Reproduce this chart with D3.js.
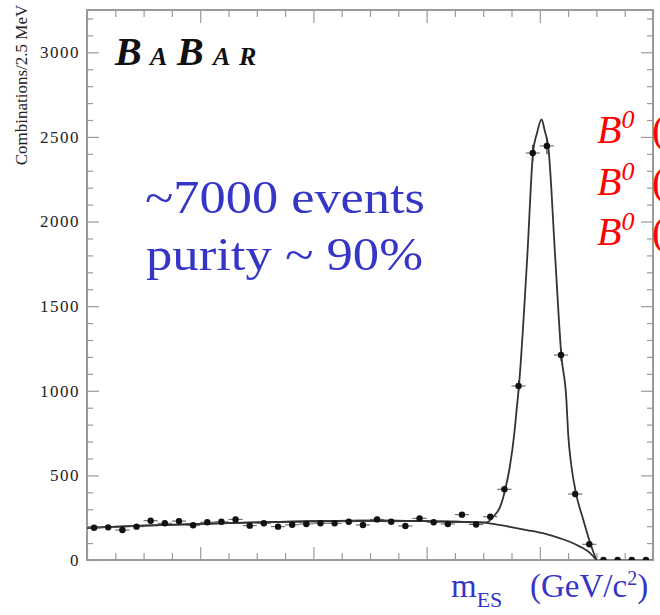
<!DOCTYPE html>
<html>
<head>
<meta charset="utf-8">
<script src="https://cdn.jsdelivr.net/npm/d3@7"></script>
<style>
  body { margin: 0; background: #fff; }
  svg { display: block; }
  svg text { font-family: "Liberation Serif", "Times New Roman", "DejaVu Serif", serif; }
</style>
</head>
<body>
<div id="visHolder"></div>
<script>
var width = 660;
var height = 615;

// m_ES histogram, 2.5 MeV bins from 5.20 to 5.30 GeV/c2
var binLow = 5.20;
var binWidth = 0.0025;
var counts = [191, 193, 177, 197, 232, 217, 230, 205, 223, 226,
              240, 203, 217, 197, 208, 213, 217, 217, 226, 207,
              240, 226, 201, 246, 223, 213, 268, 210, 256, 418,
              1028, 2405, 2447, 1211, 390, 93, 0, 0, 0, 0];

// fitted total shape (signal + background)
var fitMass = [5.2000, 5.2100, 5.2200, 5.2300, 5.2400, 5.2500, 5.2600, 5.2650, 5.2706,
               5.2718, 5.2730, 5.2739, 5.2747, 5.2755, 5.2759, 5.2763, 5.2778, 5.2788,
               5.2795, 5.2803, 5.2809, 5.2815, 5.2827, 5.2838, 5.2847, 5.2850, 5.2856,
               5.2864, 5.2877, 5.2889, 5.2900];
var fitTotal = [190, 203, 213, 222, 229, 232, 230, 226, 222,
                256, 315, 418, 551, 748, 886, 1023, 1801, 2404,
                2522, 2603, 2533, 2441, 1801, 1211, 945, 750, 551,
                394, 236, 100, 0];

// background (ARGUS-like) component
var bkgMass = [5.2000, 5.2100, 5.2200, 5.2300, 5.2400, 5.2500, 5.2600, 5.2650, 5.2700,
               5.2718, 5.2747, 5.2777, 5.2810, 5.2836, 5.2855, 5.2871, 5.2889, 5.2900];
var bkgValues = [190, 203, 213, 222, 229, 232, 230, 226, 221,
                 213, 196, 177, 154, 128, 105, 79, 41, 0];

var yMajor = [0, 500, 1000, 1500, 2000, 2500, 3000];
var xMajor = [5.20, 5.22, 5.24, 5.26, 5.28, 5.30];

var frameGrey = "#9a9a9a";
var blue = "#3535c8";
var red = "#ff0000";
var serif = "\"Liberation Serif\", \"Times New Roman\", \"DejaVu Serif\", serif";

var svg = d3.select("#visHolder")
  .append("svg")
  .attr("width", width)
  .attr("height", height)
  .attr("font-family", serif);

var x = d3.scaleLinear().domain([5.20, 5.30]).range([87, 653]);
var y = d3.scaleLinear().domain([0, 3250]).range([560, 10]);

var yMinor = d3.range(0, 3250, 100).filter(v => v % 500 !== 0);
var xMinor = d3.range(0, 21).map(i => 5.20 + i * 0.005).filter((v, i) => i % 4 !== 0);

function styleAxis(g) {
  g.attr("font-family", serif);
  g.select(".domain").remove();
  g.selectAll("line").attr("stroke", frameGrey).attr("stroke-width", 1.2);
  g.selectAll("text")
    .attr("fill", "#222")
    .style("font-size", "17px")
    .style("letter-spacing", "1.5px");
}

// left axis, labelled, ticks pointing inside
svg.append("g")
  .attr("transform", "translate(87,0)")
  .call(d3.axisLeft(y).tickValues(yMajor).tickSize(-12).tickPadding(7).tickFormat(d3.format("d")))
  .call(styleAxis);
svg.append("g")
  .attr("transform", "translate(87,0)")
  .call(d3.axisLeft(y).tickValues(yMinor).tickSize(-6).tickFormat(""))
  .call(styleAxis);

// right axis mirror
svg.append("g")
  .attr("transform", "translate(653,0)")
  .call(d3.axisRight(y).tickValues(yMajor).tickSize(-12).tickFormat(""))
  .call(styleAxis);
svg.append("g")
  .attr("transform", "translate(653,0)")
  .call(d3.axisRight(y).tickValues(yMinor).tickSize(-6).tickFormat(""))
  .call(styleAxis);

// bottom and top, no labels in the picture
svg.append("g")
  .attr("transform", "translate(0,560)")
  .call(d3.axisBottom(x).tickValues(xMajor).tickSize(-13).tickFormat(""))
  .call(styleAxis);
svg.append("g")
  .attr("transform", "translate(0,560)")
  .call(d3.axisBottom(x).tickValues(xMinor).tickSize(-7).tickFormat(""))
  .call(styleAxis);
svg.append("g")
  .attr("transform", "translate(0,10)")
  .call(d3.axisTop(x).tickValues(xMajor).tickSize(-13).tickFormat(""))
  .call(styleAxis);
svg.append("g")
  .attr("transform", "translate(0,10)")
  .call(d3.axisTop(x).tickValues(xMinor).tickSize(-7).tickFormat(""))
  .call(styleAxis);

// frame
svg.append("rect")
  .attr("x", x(5.20))
  .attr("y", y(3250))
  .attr("width", x(5.30) - x(5.20))
  .attr("height", y(0) - y(3250))
  .attr("fill", "none")
  .attr("stroke", frameGrey)
  .attr("stroke-width", 2);

svg.append("clipPath").attr("id", "plotClip")
  .append("rect")
  .attr("x", x(5.20)).attr("y", y(3250))
  .attr("width", x(5.30) - x(5.20)).attr("height", y(0) - y(3250));

var plot = svg.append("g").attr("clip-path", "url(#plotClip)");

var fitLine = d3.line()
  .x(d => x(d[0]))
  .y(d => y(d[1]))
  .curve(d3.curveMonotoneX);

plot.append("path")
  .attr("d", fitLine(d3.zip(bkgMass, bkgValues)))
  .attr("fill", "none")
  .attr("stroke", "#333")
  .attr("stroke-width", 1.8);

plot.append("path")
  .attr("d", fitLine(d3.zip(fitMass, fitTotal)))
  .attr("fill", "none")
  .attr("stroke", "#333")
  .attr("stroke-width", 1.8);

// data points with error bars
var pts = counts.map((c, i) => ({ m: binLow + (i + 0.5) * binWidth, n: c }));

var pg = plot.selectAll(".pt")
  .data(pts)
  .enter()
  .append("g")
  .attr("class", "pt");

pg.append("line")
  .attr("x1", d => x(d.m - binWidth / 2))
  .attr("x2", d => x(d.m + binWidth / 2))
  .attr("y1", d => y(d.n))
  .attr("y2", d => y(d.n))
  .attr("stroke", "#555")
  .attr("stroke-width", 1);

pg.append("line")
  .attr("x1", d => x(d.m))
  .attr("x2", d => x(d.m))
  .attr("y1", d => y(d.n + Math.sqrt(d.n)))
  .attr("y2", d => y(d.n - Math.sqrt(d.n)))
  .attr("stroke", "#333")
  .attr("stroke-width", 1.2);

pg.append("circle")
  .attr("cx", d => x(d.m))
  .attr("cy", d => y(d.n))
  .attr("r", 3.2)
  .attr("fill", "#111");

// y axis title
svg.append("text")
  .attr("transform", "translate(27,85) rotate(-90)")
  .attr("text-anchor", "middle")
  .style("font-size", "17px")
  .attr("fill", "#222")
  .text("Combinations/2.5 MeV");

// BaBar logo
var logo = svg.append("text")
  .attr("y", 65)
  .style("font-weight", "bold")
  .style("font-style", "italic")
  .attr("fill", "#111");
[["B", 115, 40], ["A", 150, 26], ["B", 177, 40], ["A", 213, 26], ["R", 239, 26]].forEach(function (l) {
  logo.append("tspan").attr("x", l[1]).style("font-size", l[2] + "px").text(l[0]);
});

// blue annotations
svg.append("text")
  .attr("x", 145).attr("y", 213)
  .attr("textLength", 280).attr("lengthAdjust", "spacingAndGlyphs")
  .style("font-size", "46px")
  .attr("fill", blue)
  .text("~7000 events");
svg.append("text")
  .attr("x", 146).attr("y", 270)
  .attr("textLength", 277).attr("lengthAdjust", "spacingAndGlyphs")
  .style("font-size", "46px")
  .attr("fill", blue)
  .text("purity ~ 90%");

// x axis title
var xt = svg.append("text")
  .attr("x", 451).attr("y", 597)
  .style("font-size", "33px")
  .attr("fill", blue);
xt.append("tspan").text("m");
xt.append("tspan").attr("dy", 10).style("font-size", "22px").text("ES");
xt.append("tspan").attr("x", 530).attr("dy", -10).text("(GeV/c");
xt.append("tspan").attr("dy", -12).style("font-size", "20px").text("2");
xt.append("tspan").attr("dy", 12).text(")");

// red decay labels, cut by the right edge
[143, 195, 245].forEach(function (by) {
  var t = svg.append("text")
    .attr("x", 597).attr("y", by)
    .style("font-size", "40px")
    .style("font-style", "italic")
    .attr("fill", red);
  t.append("tspan").text("B");
  t.append("tspan").attr("dy", -15).style("font-size", "26px").text("0");
  t.append("tspan").attr("x", 652).attr("dy", 15).style("font-style", "normal").text("(");
});
</script>
</body>
</html>
